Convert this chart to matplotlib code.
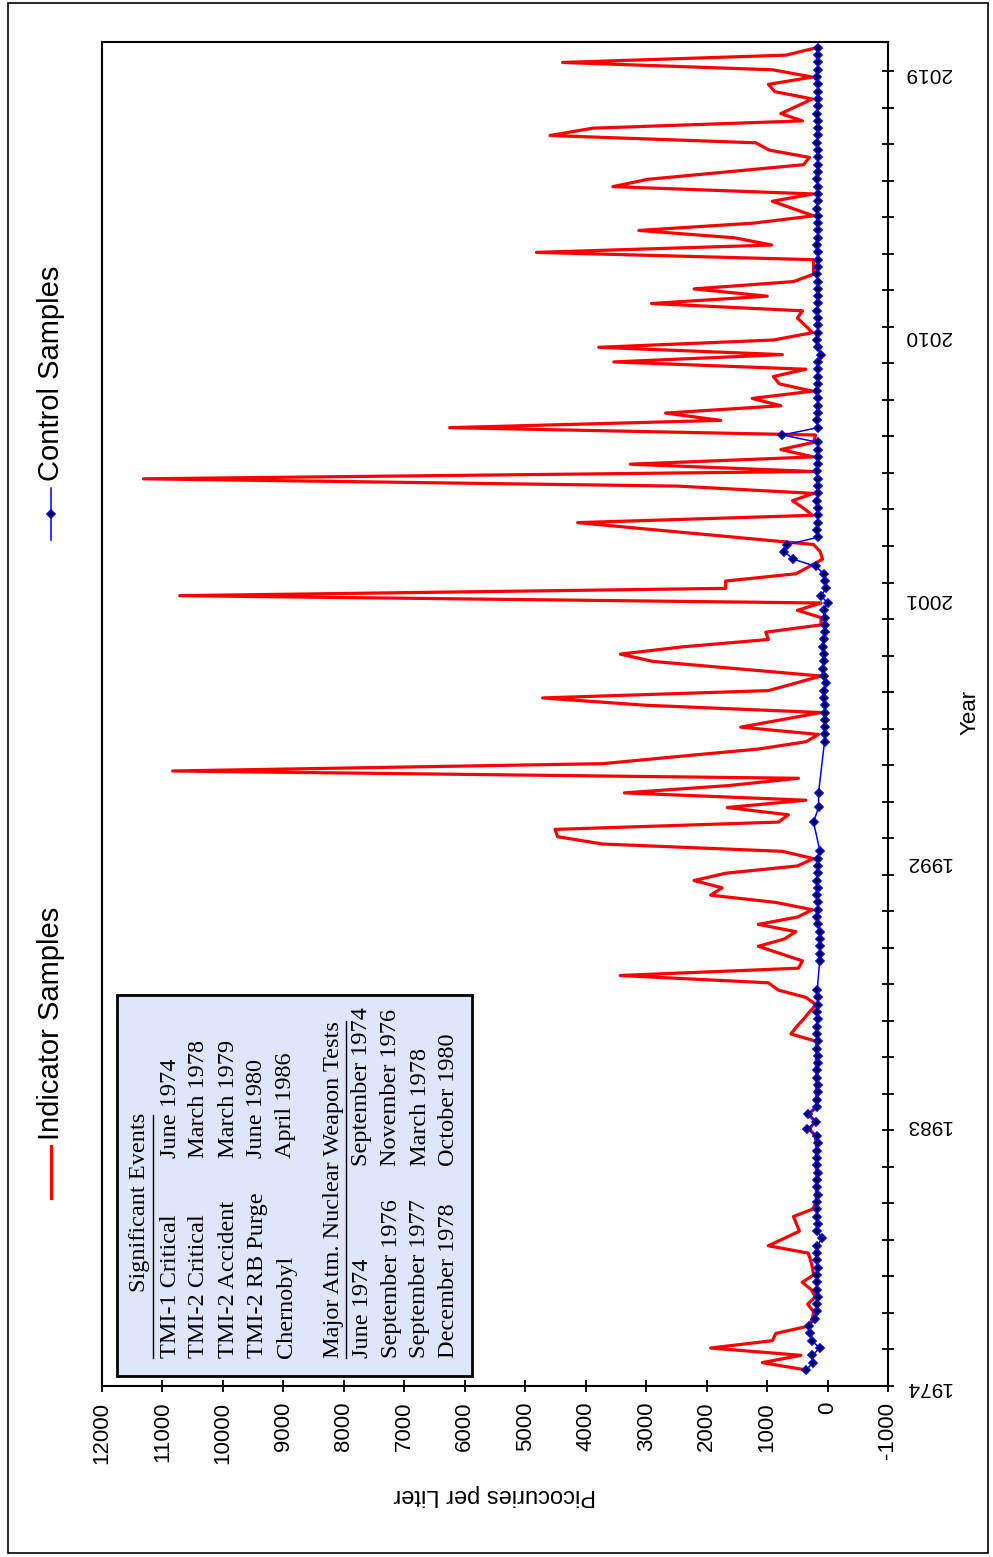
import numpy as np
import matplotlib
matplotlib.use("Agg")
import matplotlib.pyplot as plt
from matplotlib.lines import Line2D
from matplotlib.patches import Rectangle

plt.rcParams['axes.unicode_minus'] = False

# quarterly sampling, first sample mid 1974
sample_year = 1974.55 + 0.25 * np.arange(182)

# indicator samples, pCi/L
indicator = np.array([
    357, 1079, 440, 1934, 913, 855, 315, 250, 230, 330,
    200, 270, 420, 230, 250, 280, 320, 980, 720, 465,
    515, 564, 250, 180, 190, 180, 170, 180, 190, 180,
    170, 190, 200, 300, 200, 320, 180, 170, 190, 180,
    170, 180, 190, 180, 170, 191, 606, 510, 400, 300,
    191, 357, 813, 979, 3428, 481, 415, 780, 1145, 714,
    523, 1145, 498, 249, 855, 1934, 1743, 2208, 1685, 498,
    232, 747, 3718, 4465, 4507, 813, 647, 1660, 357, 3361,
    1643, 481, 10831, 3718, 2450, 1145, 357, 149, 1436, 770,
    108, 3013, 4714, 979, 540, 108, 1500, 2888, 3428, 2390,
    979, 1021, 108, 108, 498, 108, 10715, 1685, 1685, 523,
    300, 83, 120, 230, 1530, 2830, 4133, 249, 400, 581,
    232, 2473, 11313, 232, 3262, 232, 772, 230, 200, 6250,
    1768, 2681, 772, 1245, 249, 797, 896, 357, 3536, 747,
    3785, 896, 249, 370, 498, 415, 2913, 996, 2208, 564,
    232, 232, 232, 4814, 921, 1544, 3121, 1228, 232, 570,
    913, 232, 3552, 2971, 1680, 398, 299, 963, 1187, 4590,
    3884, 415, 772, 510, 249, 871, 979, 249, 913, 4382,
    690, 190,
], dtype=float)

nan = np.nan
# control samples, pCi/L (nan = no sample)
control = np.array([
    357, 240, 250, 130, 260, 290, 310, 200, 180, 170,
    160, 170, 180, 170, 160, 170, 180, 170, 91, 170,
    160, 170, 180, 170, 160, 170, 170, 160, 170, 180,
    170, 160, 170, 332, 190, 315, 180, 170, 160, 150,
    170, 180, 160, 150, 170, 160, 170, 180, 160, 170,
    150, 160, 170, nan, nan, nan, 130, 120, 125, 130,
    125, 160, 170, 160, 150, 170, 160, 170, 160, 150,
    160, 125, nan, nan, nan, 232, nan, 149, nan, 149,
    nan, nan, nan, nan, nan, nan, 50, 50, 50, 50,
    50, 42, 66, 66, 25, 66, 83, 66, 66, 83,
    66, 50, 50, 50, 66, 0, 108, 25, 42, 66,
    191, 564, 714, 664, 160, 170, 160, 150, 160, 170,
    160, 150, 160, 170, 160, 160, 150, 160, 747, 160,
    170, 160, 150, 160, 170, 160, 160, 150, 160, 100,
    160, 170, 160, 150, 160, 170, 160, 160, 150, 160,
    170, 160, 150, 160, 170, 160, 160, 150, 160, 170,
    160, 150, 160, 170, 160, 160, 150, 160, 170, 160,
    150, 160, 170, 160, 160, 150, 160, 170, 160, 150,
    160, 160,
], dtype=float)

conc_ticks = list(range(12000, -1001, -1000))
conc_labels = [str(v) for v in conc_ticks]
year_labels = [1974, 1983, 1992, 2001, 2010, 2019]
year_minor = [1974 + 1.25 * i for i in range(37)]

events = [("TMI-1 Critical", "June 1974"),
          ("TMI-2 Critical", "March 1978"),
          ("TMI-2 Accident", "March 1979"),
          ("TMI-2 RB Purge", "June 1980"),
          ("Chernobyl", "April 1986")]
tests = [("June 1974", "September 1974"),
         ("September 1976", "November 1976"),
         ("September 1977", "March 1978"),
         ("December 1978", "October 1980")]

W, H = 993, 1557
SANS = ['Liberation Sans', 'DejaVu Sans']
SERIF = ['Liberation Serif', 'DejaVu Serif']
MARK = dict(marker='D', ms=4.2, mfc='black', mec='blue', mew=1.2)


def fx(x):
    return x / W


def fy(y):
    return 1 - y / H


fig = plt.figure(figsize=(W / 100, H / 100), dpi=100)
ax = fig.add_axes([fx(102), fy(1386), 786 / W, 1344 / H])

ax.plot(indicator, sample_year, color='red', lw=2.3, zorder=2)
ok = ~np.isnan(control)
ax.plot(control[ok], sample_year[ok], color='blue', lw=1.1, zorder=3, **MARK)

ax.set_xlim(12000, -1000)
ax.set_ylim(1974, 2020)

ax.set_xticks(conc_ticks)
ax.set_xticklabels(conc_labels, rotation=90, family=SANS, fontsize=16)
ax.tick_params(axis='x', direction='inout', length=9, width=1.3, pad=7)

ax.yaxis.tick_right()
ax.yaxis.remove_overlapping_locs = False
ax.set_yticks(year_labels)
ax.set_yticklabels([str(y) for y in year_labels], rotation=180, family=SANS, fontsize=15)
ax.set_yticks(year_minor, minor=True)
ax.tick_params(axis='y', which='major', length=0, pad=12)
ax.tick_params(axis='y', which='minor', direction='inout', length=9, width=1.3)
for s in ax.spines.values():
    s.set_linewidth(1.5)

fig.text(fx(495), fy(1495), "Picocuries per Liter", rotation=180, ha='center', va='center',
         family=SANS, fontsize=17)
fig.text(fx(970), fy(712), "Year", rotation=90, ha='center', va='center',
         family=SANS, fontsize=16)

# legend, drawn rotated
fig.add_artist(Line2D([fx(51), fx(51)], [fy(1198), fy(1146)], color='red', lw=2.3))
fig.text(fx(51), fy(1140), "Indicator Samples", rotation=90, ha='center', va='bottom',
         family=SANS, fontsize=21)
fig.add_artist(Line2D([fx(51), fx(51)], [fy(540), fy(488)], color='blue', lw=1.1))
fig.add_artist(Line2D([fx(51)], [fy(514)], color='blue', lw=0, **MARK))
fig.text(fx(51), fy(481), "Control Samples", rotation=90, ha='center', va='bottom',
         family=SANS, fontsize=21)

# events box
fig.add_artist(Rectangle((fx(117), fy(1376)), 355 / W, 381 / H, transform=fig.transFigure,
                         facecolor='#DDE6FB', edgecolor='black', lw=2))
fig.text(fx(140), fy(1292), "Significant Events", rotation=90, ha='center', va='bottom',
         family=SERIF, fontsize=17.5)
fig.add_artist(Line2D([fx(153), fx(153)], [fy(1358), fy(1115)], color='black', lw=1))
for i, (name, date) in enumerate(events):
    x = 170 + 29 * i
    fig.text(fx(x), fy(1358), name, rotation=90, ha='center', va='bottom', family=SERIF, fontsize=17.5)
    fig.text(fx(x), fy(1158), date, rotation=90, ha='center', va='bottom', family=SERIF, fontsize=17.5)
fig.text(fx(333), fy(1358), "Major Atm. Nuclear Weapon Tests", rotation=90, ha='center',
         va='bottom', family=SERIF, fontsize=17.5)
fig.add_artist(Line2D([fx(346), fx(346)], [fy(1358), fy(1021)], color='black', lw=1))
for i, (a, b) in enumerate(tests):
    x = 362 + 29 * i
    fig.text(fx(x), fy(1358), a, rotation=90, ha='center', va='bottom', family=SERIF, fontsize=17.5)
    fig.text(fx(x), fy(1166), b, rotation=90, ha='center', va='bottom', family=SERIF, fontsize=17.5)

# outer frame
fig.add_artist(Rectangle((fx(8), fy(1553)), 980 / W, 1550 / H, transform=fig.transFigure,
                         fill=False, edgecolor='black', lw=1.2))

fig.savefig("out.png", dpi=100)
